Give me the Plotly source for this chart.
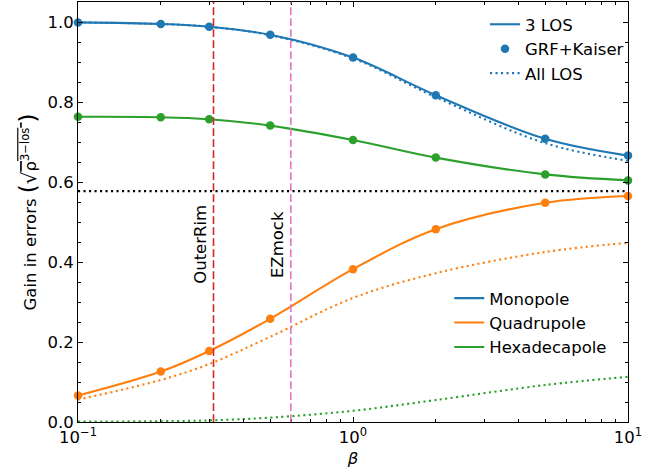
import math
import plotly.graph_objects as go

# ---- data ----
beta = [0.1, 0.2, 0.3, 0.5, 1.0, 2.0, 5.0, 10.0]

mono_3los = [0.999, 0.995, 0.988, 0.968, 0.911, 0.817, 0.708, 0.666]
quad_3los = [0.066, 0.126, 0.1775, 0.258, 0.382, 0.482, 0.548, 0.565]
hexa_3los = [0.763, 0.762, 0.757, 0.741, 0.705, 0.661, 0.619, 0.604]

mono_grf = [0.999, 0.995, 0.988, 0.968, 0.911, 0.817, 0.708, 0.666]
quad_grf = [0.066, 0.126, 0.1775, 0.258, 0.382, 0.482, 0.548, 0.565]
hexa_grf = [0.763, 0.762, 0.757, 0.741, 0.705, 0.661, 0.619, 0.604]

mono_all = [0.999, 0.995, 0.988, 0.967, 0.909, 0.812, 0.697, 0.653]
quad_all = [0.056, 0.105, 0.145, 0.213, 0.31, 0.372, 0.425, 0.448]
hexa_all = [0.001, 0.002, 0.004, 0.011, 0.028, 0.055, 0.0925, 0.113]

ref_level = 0.5774  # 1/sqrt(3)
outerrim_beta = 0.311
ezmock_beta = 0.594

names = ["Monopole", "Quadrupole", "Hexadecapole"]
colors = ["#1f77b4", "#ff7f0e", "#2ca02c"]

FONT = "DejaVu Sans"
FS = 16.5
LW = 2.1
DOT = "2.1px,3.4px"

fig = go.Figure()

# reference lines
fig.add_hline(y=ref_level, line=dict(color="black", width=2.2, dash=DOT), layer="below")
fig.add_vline(x=outerrim_beta, line=dict(color="#d62728", width=1.6, dash="7.7px,3.3px"))
fig.add_vline(x=ezmock_beta, line=dict(color="#e377c2", width=1.6, dash="7.7px,3.3px"))

series = [(mono_3los, mono_grf, mono_all), (quad_3los, quad_grf, quad_all),
          (hexa_3los, hexa_grf, hexa_all)]
for (s3, sg, sa), c in zip(series, colors):
    fig.add_trace(go.Scatter(x=beta, y=s3, mode="lines", line=dict(color=c, width=LW, shape="spline"),
                             showlegend=False))
    fig.add_trace(go.Scatter(x=beta, y=sa, mode="lines",
                             line=dict(color=c, width=LW, dash=DOT, shape="spline"), showlegend=False))
    fig.add_trace(go.Scatter(x=beta, y=sg, mode="markers", marker=dict(color=c, size=8.5),
                             showlegend=False, cliponaxis=False))

# legend 1 (line styles)
fig.add_trace(go.Scatter(x=[None], y=[None], mode="lines", name="3 LOS",
                         line=dict(color=colors[0], width=LW), legend="legend"))
fig.add_trace(go.Scatter(x=[None], y=[None], mode="markers", name="GRF+Kaiser",
                         marker=dict(color=colors[0], size=8.5), legend="legend"))
fig.add_trace(go.Scatter(x=[None], y=[None], mode="lines", name="All LOS",
                         line=dict(color=colors[0], width=LW, dash=DOT), legend="legend"))
# legend 2 (multipoles)
for n, c in zip(names, colors):
    fig.add_trace(go.Scatter(x=[None], y=[None], mode="lines", name=n,
                             line=dict(color=c, width=LW), legend="legend2"))

for bx, label in [(outerrim_beta, "OuterRim"), (ezmock_beta, "EZmock")]:
    fig.add_annotation(x=math.log10(bx), y=0.443, xref="x", yref="y", text=label, textangle=-90,
                       showarrow=False, xanchor="right", yanchor="middle", xshift=-1,
                       font=dict(family=FONT, size=FS, color="black"))

axis_common = dict(showline=True, linecolor="black", linewidth=1.1, mirror="allticks",
                   ticks="inside", ticklen=5, tickwidth=1.1, tickcolor="black",
                   showgrid=False, zeroline=False,
                   tickfont=dict(family=FONT, size=FS, color="black"))

ytitle = ("Gain in errors <span style='font-size:23px'>(</span>"
          "<span style='font-size:20px'>√</span>"
          "<span style='text-decoration:overline'>ρ<sup>3−los</sup> </span>"
          "<span style='font-size:23px'>)</span>")

fig.update_xaxes(type="log", range=[-1, 1], tickmode="array", tickvals=[0.1, 1, 10],
                 ticktext=["10<sup>−1</sup>", "10<sup>0</sup>", "10<sup>1</sup>"],
                 minor=dict(ticks="inside", ticklen=3, tickwidth=1, tickcolor="black", dtick="D1",
                            showgrid=False),
                 title=dict(text="<i>β</i>", font=dict(family=FONT, size=FS, color="black"), standoff=6),
                 **axis_common)
fig.update_yaxes(range=[0, 1.05], tickmode="linear", tick0=0, dtick=0.2, tickformat=".1f",
                 minor=dict(ticks="inside", ticklen=3, tickwidth=1, tickcolor="black", dtick=0.05,
                            showgrid=False),
                 title=dict(text=ytitle, font=dict(family=FONT, size=FS, color="black"), standoff=6),
                 **axis_common)

fig.update_layout(
    width=667, height=476,
    margin=dict(l=78, r=39, t=2, b=54),
    plot_bgcolor="white", paper_bgcolor="white",
    font=dict(family=FONT, size=FS, color="black"),
    legend=dict(x=0.74, y=0.988, xanchor="left", yanchor="top", bgcolor="rgba(0,0,0,0)",
                font=dict(family=FONT, size=FS, color="black")),
    legend2=dict(x=0.675, y=0.336, xanchor="left", yanchor="top", bgcolor="rgba(0,0,0,0)",
                 font=dict(family=FONT, size=FS, color="black")),
)

fig.write_html("out.html", config={"displayModeBar": False},
               post_script="document.body.style.margin='0';document.body.style.overflow='hidden';")
